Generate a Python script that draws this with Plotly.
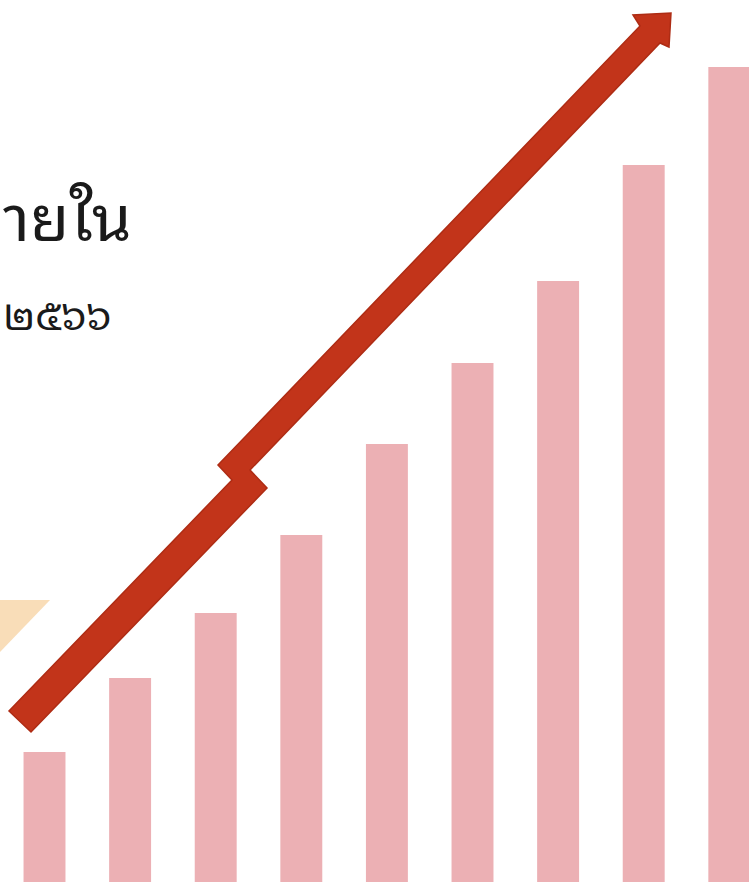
import plotly.graph_objects as go

# ---- data ----
years = ["๒๕๕๘", "๒๕๕๙", "๒๕๖๐", "๒๕๖๑", "๒๕๖๒", "๒๕๖๓", "๒๕๖๔", "๒๕๖๕", "๒๕๖๖"]
values = [130, 204, 269, 347, 438, 519, 601, 717, 815]
title_text = "ายใน"
subtitle_text = "๒๕๖๖"

W, H = 749, 887
BAR_COLOR = "#ECB0B4"
ARROW_COLOR = "#C2341A"
ARROW_EDGE = "#AE2C14"
TRI_COLOR = "#F9DDB8"
THAI_FONT = "Noto Sans Thai Looped, Noto Serif Thai, Noto Sans Thai, Noto Sans, sans-serif"

fig = go.Figure(go.Bar(
    x=years, y=values, width=0.49,
    marker=dict(color=BAR_COLOR, line=dict(width=0)),
    hoverinfo="x+y",
))


def P(x, y):
    """pixel -> paper coordinates"""
    return x / W, 1 - y / H


def path(points):
    s = ""
    for i, (x, y) in enumerate(points):
        px, py = P(x, y)
        s += ("M" if i == 0 else "L") + f"{px:.5f},{py:.5f} "
    return s + "Z"


arrow_pts = [(9, 711), (31, 732), (267, 488), (250, 470), (660, 43), (669, 47),
             (671, 13), (633, 15), (640, 26), (218, 465), (232, 480)]
tri_pts = [(0, 600), (50, 600), (0, 652)]

fig.update_layout(
    width=W, height=H,
    margin=dict(l=0, r=0, t=0, b=0),
    paper_bgcolor="white", plot_bgcolor="white",
    showlegend=False,
    xaxis=dict(type="category", range=[-0.52, 8.23], visible=False, fixedrange=True),
    yaxis=dict(range=[-5, 882], visible=False, fixedrange=True),
    shapes=[
        dict(type="path", xref="paper", yref="paper", path=path(tri_pts),
             fillcolor=TRI_COLOR, line=dict(width=0), layer="below"),
        dict(type="path", xref="paper", yref="paper", path=path(arrow_pts),
             fillcolor=ARROW_COLOR, line=dict(color=ARROW_EDGE, width=1.5), layer="above"),
    ],
    annotations=[
        dict(text=title_text, xref="paper", yref="paper", x=P(1, 0)[0], y=P(0, 212)[1],
             xanchor="left", yanchor="middle", showarrow=False,
             font=dict(family=THAI_FONT, size=64, color="#1a1a1a")),
        dict(text=subtitle_text, xref="paper", yref="paper", x=P(1, 0)[0], y=P(0, 311)[1],
             xanchor="left", yanchor="middle", showarrow=False,
             font=dict(family=THAI_FONT, size=41, color="#1a1a1a")),
    ],
)

fig.write_html("out.html")
